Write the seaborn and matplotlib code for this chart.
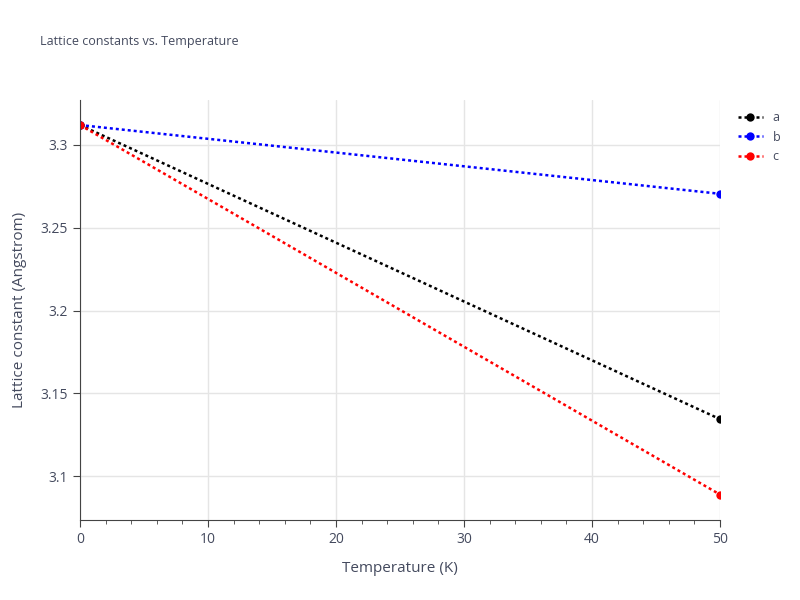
import numpy as np
import pandas as pd
import matplotlib.pyplot as plt
import seaborn as sns

temperature = [0, 50]
lat_a = [3.3120, 3.1345]
lat_b = [3.3120, 3.2705]
lat_c = [3.3120, 3.0890]
series_names = ['a', 'b', 'c']
colors = ['black', 'blue', 'red']

df = pd.DataFrame({
    'T': temperature * 3,
    'val': lat_a + lat_b + lat_c,
    'name': sum([[n] * len(temperature) for n in series_names], []),
})

sns.set_style('white')
plt.rcParams['font.family'] = ['Open Sans', 'DejaVu Sans']
fig = plt.figure(figsize=(8, 6), dpi=100)
ax = fig.add_axes([0.1, 0.133, 0.8, 0.7])

sns.lineplot(data=df, x='T', y='val', hue='name', palette=colors, marker='o',
             markersize=6, markeredgewidth=0, linestyle=':', linewidth=1.8, ax=ax)
for line in ax.get_lines():
    line.set_linestyle((0, (1.2, 1.2)))

ax.set_xlim(0, 50)
ax.set_ylim(3.0735, 3.327)
ax.set_xticks([0, 10, 20, 30, 40, 50])
ax.set_xticks(np.arange(0, 51, 2), minor=True)
ax.set_yticks([3.1, 3.15, 3.2, 3.25, 3.3])
ax.set_yticklabels(['3.1', '3.15', '3.2', '3.25', '3.3'])
ax.grid(True, color='#e5e5e5', linewidth=1)
ax.set_axisbelow(True)
for s in ['top', 'right']:
    ax.spines[s].set_visible(False)
for s in ['left', 'bottom']:
    ax.spines[s].set_color('#444444')
txt = '#444a5e'
ax.tick_params(axis='both', which='major', direction='out', length=5, color='#444444',
               labelcolor=txt, labelsize=10, left=True, bottom=True)
ax.tick_params(axis='x', which='minor', direction='out', length=3, color='#444444', bottom=True)
ax.set_xlabel('Temperature (K)', color=txt, fontsize=11, labelpad=10)
ax.set_ylabel('Lattice constant (Angstrom)', color=txt, fontsize=11, labelpad=10)

fig.text(0.05, 0.925, 'Lattice constants vs. Temperature', color=txt, fontsize=9)
leg = ax.legend(loc='upper left', bbox_to_anchor=(1.01, 1.0), frameon=False,
                fontsize=9, handlelength=2, labelcolor=txt)

fig.savefig('out.png', dpi=100)
